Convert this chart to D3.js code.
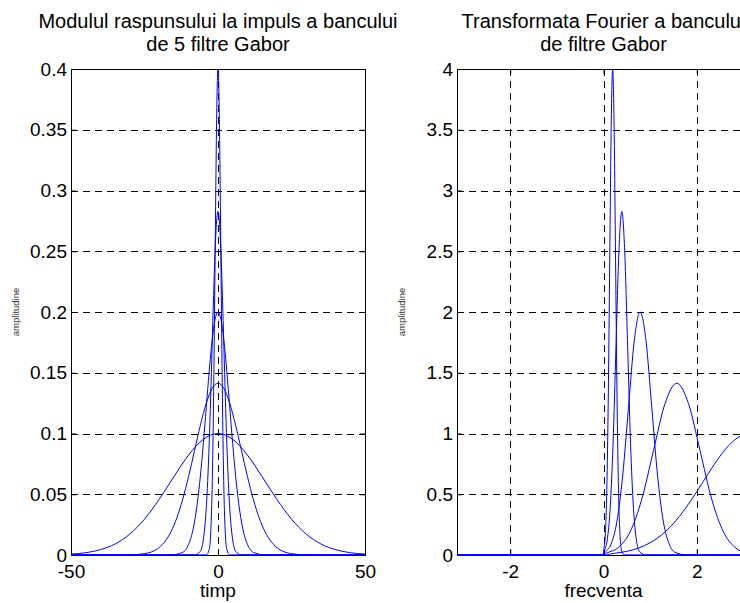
<!DOCTYPE html>
<html>
<head>
<meta charset="utf-8">
<script src="https://cdn.jsdelivr.net/npm/d3@7"></script>
<style>
  body { margin: 0; background: #fff; }
  svg { display: block; overflow: hidden; }
  text { font-family: "Liberation Sans", Arial, sans-serif; }
</style>
</head>
<body>
<div id="chart"></div>
<script>
// values
let timpTicks = [-50, 0, 50];
let amplTicksLeft = [0, 0.05, 0.1, 0.15, 0.2, 0.25, 0.3, 0.35, 0.4];
let frecvTicks = [-2, 0, 2];
let amplTicksRight = [0, 0.5, 1, 1.5, 2, 2.5, 3, 3.5, 4];

// modulul raspunsului la impuls (timp, amplitudine)
let impuls1 = [[-50,0.0008],[-45,0.0019],[-40,0.0044],[-35,0.0091],[-30,0.0172],[-25,0.0295],[-20,0.0458],[-15,0.0645],[-10,0.0823],[-5,0.0952],[0,0.1],[5,0.0952],[10,0.0823],[15,0.0645],[20,0.0458],[25,0.0295],[30,0.0172],[35,0.0091],[40,0.0044],[45,0.0019],[50,0.0008]];
let impuls2 = [[-50,0],[-30,0.0001],[-25,0.0011],[-20,0.0062],[-18,0.0113],[-16,0.0191],[-14,0.0306],[-12,0.0459],[-10,0.0647],[-8,0.0858],[-6,0.1067],[-4,0.1248],[-2,0.1371],[0,0.1414],[2,0.1371],[4,0.1248],[6,0.1067],[8,0.0858],[10,0.0647],[12,0.0459],[14,0.0306],[16,0.0191],[18,0.0113],[20,0.0062],[25,0.0011],[30,0.0001],[50,0]];
let impuls3 = [[-50,0],[-16,0.0001],[-12,0.0022],[-10,0.0088],[-9,0.0159],[-8,0.0271],[-7,0.0433],[-6,0.0649],[-5,0.0916],[-4,0.1213],[-3,0.151],[-2,0.1765],[-1,0.1938],[0,0.2],[1,0.1938],[2,0.1765],[3,0.151],[4,0.1213],[5,0.0916],[6,0.0649],[7,0.0433],[8,0.0271],[9,0.0159],[10,0.0088],[12,0.0022],[16,0.0001],[50,0]];
let impuls4 = [[-50,0],[-8,0.0001],[-6,0.0031],[-5,0.0124],[-4,0.0383],[-3.5,0.0613],[-3,0.0918],[-2.5,0.1295],[-2,0.1715],[-1.5,0.2135],[-1,0.2496],[-0.5,0.2741],[0,0.2828],[0.5,0.2741],[1,0.2496],[1.5,0.2135],[2,0.1715],[2.5,0.1295],[3,0.0918],[3.5,0.0613],[4,0.0383],[5,0.0124],[6,0.0031],[8,0.0001],[50,0]];
let impuls5 = [[-50,0],[-4,0.0001],[-3,0.0044],[-2.5,0.0176],[-2,0.0541],[-1.75,0.0866],[-1.5,0.1295],[-1.25,0.1831],[-1,0.2426],[-0.75,0.3011],[-0.5,0.353],[-0.25,0.3877],[0,0.4],[0.25,0.3877],[0.5,0.353],[0.75,0.3011],[1,0.2426],[1.25,0.1831],[1.5,0.1295],[1.75,0.0866],[2,0.0541],[2.5,0.0176],[3,0.0044],[4,0.0001],[50,0]];

// transformata Fourier (frecventa, amplitudine)
let fourier1 = [[-3.1416,0],[0,0],[0.0088,0.044],[0.04,0.176],[0.0713,0.541],[0.1026,1.299],[0.1338,2.426],[0.1651,3.53],[0.1963,4],[0.2276,3.53],[0.2588,2.426],[0.2901,1.299],[0.3213,0.541],[0.3526,0.176],[0.3838,0.044],[0.4463,0.001],[3.1416,0]];
let fourier2 = [[-3.1416,0],[0,0],[0.0177,0.031],[0.0802,0.124],[0.1427,0.383],[0.2052,0.918],[0.2677,1.715],[0.3302,2.496],[0.3927,2.828],[0.4552,2.496],[0.5177,1.715],[0.5802,0.918],[0.6427,0.383],[0.7052,0.124],[0.7677,0.031],[0.8927,0.001],[3.1416,0]];
let fourier3 = [[-3.1416,0],[0,0],[0.0354,0.022],[0.1604,0.088],[0.2854,0.271],[0.4104,0.649],[0.5354,1.213],[0.6604,1.765],[0.7854,2],[0.9104,1.765],[1.0354,1.213],[1.1604,0.649],[1.2854,0.271],[1.4104,0.088],[1.5354,0.022],[1.7854,0.001],[3.1416,0]];
let fourier4 = [[-3.1416,0],[0,0],[0.0708,0.016],[0.3208,0.062],[0.5708,0.191],[0.8208,0.459],[1.0708,0.858],[1.3208,1.248],[1.5708,1.414],[1.8208,1.248],[2.0708,0.858],[2.3208,0.459],[2.5708,0.191],[2.8208,0.062],[3.0708,0.016],[3.1416,0.01]];
let fourier5 = [[-3.1416,0],[0,0],[0.25,0.015],[0.5,0.03],[0.75,0.057],[1,0.101],[1.25,0.167],[1.5,0.26],[1.75,0.38],[2,0.521],[2.25,0.672],[2.5,0.814],[2.75,0.926],[3,0.99],[3.1416,1]];

let width = 740;
let height = 603;

let svg = d3.select("#chart")
    .append("svg")
    .attr("width", width)
    .attr("height", height);

const drawPanel = (p) => {
    let x = d3.scaleLinear().domain(p.xDomain).range([p.left, p.right]);
    let y = d3.scaleLinear().domain(p.yDomain).range([555, 69]);
    let g = svg.append("g");

    // grid
    g.append("g").selectAll("line.h")
        .data(p.yTicks.filter(d => d > p.yDomain[0] && d < p.yDomain[1]))
        .join("line")
        .attr("x1", p.left).attr("x2", p.right)
        .attr("y1", d => Math.round(y(d)) + 0.5).attr("y2", d => Math.round(y(d)) + 0.5)
        .attr("stroke", "#000").attr("stroke-dasharray", "7,5");
    g.append("g").selectAll("line.v")
        .data(p.xTicks.filter(d => d > p.xDomain[0] && d < p.xDomain[1]))
        .join("line")
        .attr("y1", 69).attr("y2", 555)
        .attr("x1", d => Math.round(x(d)) + 0.5).attr("x2", d => Math.round(x(d)) + 0.5)
        .attr("stroke", "#000").attr("stroke-dasharray", "7,5");

    // axes with inward ticks
    let fmt = d => String(d);
    g.append("g").attr("transform", "translate(0,555)")
        .call(d3.axisBottom(x).tickValues(p.xTicks).tickFormat(fmt).tickSizeInner(-5).tickSizeOuter(0).tickPadding(9.5));
    g.append("g").attr("transform", "translate(0,69)")
        .call(d3.axisTop(x).tickValues(p.xTicks).tickFormat("").tickSizeInner(-5).tickSizeOuter(0));
    g.append("g").attr("transform", `translate(${p.left},0)`)
        .call(d3.axisLeft(y).tickValues(p.yTicks).tickFormat(fmt).tickSizeInner(-5).tickSizeOuter(0).tickPadding(4));
    g.append("g").attr("transform", `translate(${p.right},0)`)
        .call(d3.axisRight(y).tickValues(p.yTicks).tickFormat("").tickSizeInner(-5).tickSizeOuter(0));
    g.selectAll(".domain").remove();
    g.selectAll(".tick text").attr("font-size", 19).attr("fill", "#000")
        .attr("font-family", "Liberation Sans, Arial, sans-serif");
    g.selectAll(".tick line").attr("stroke", "#000");

    // box
    g.append("rect")
        .attr("x", p.left + 0.5).attr("y", 69.5)
        .attr("width", p.right - p.left).attr("height", 555 - 69)
        .attr("fill", "none").attr("stroke", "#000");

    // curves
    let line = d3.line()
        .x(d => x(d[0]))
        .y(d => y(d[1]))
        .curve(d3.curveMonotoneX);
    g.append("g").selectAll("path")
        .data(p.series)
        .join("path")
        .attr("d", line)
        .attr("fill", "none")
        .attr("stroke", "#0000ff")
        .attr("stroke-width", 1);

    // titles and labels
    let cx = (p.left + p.right) / 2;
    g.append("text").attr("x", cx).attr("y", 28).attr("text-anchor", "middle")
        .attr("font-size", 20).text(p.title[0]);
    g.append("text").attr("x", cx).attr("y", 51).attr("text-anchor", "middle")
        .attr("font-size", 20).text(p.title[1]);
    g.append("text").attr("x", cx).attr("y", 596.5).attr("text-anchor", "middle")
        .attr("font-size", 19).text(p.xLabel);
    g.append("text")
        .attr("transform", `translate(${p.left - 52},312) rotate(-90)`)
        .attr("text-anchor", "middle").attr("font-size", 9.5).attr("fill", "#333")
        .text("amplitudine");
}

drawPanel({
    left: 71, right: 365,
    xDomain: [-50, 50], yDomain: [0, 0.4],
    xTicks: timpTicks, yTicks: amplTicksLeft,
    series: [impuls1, impuls2, impuls3, impuls4, impuls5],
    title: ["Modulul raspunsului la impuls a bancului", "de 5 filtre Gabor"],
    xLabel: "timp"
});

drawPanel({
    left: 457, right: 750,
    xDomain: [-Math.PI, Math.PI], yDomain: [0, 4],
    xTicks: frecvTicks, yTicks: amplTicksRight,
    series: [fourier1, fourier2, fourier3, fourier4, fourier5],
    title: ["Transformata Fourier a bancului", "de filtre Gabor"],
    xLabel: "frecventa"
});
</script>
</body>
</html>
